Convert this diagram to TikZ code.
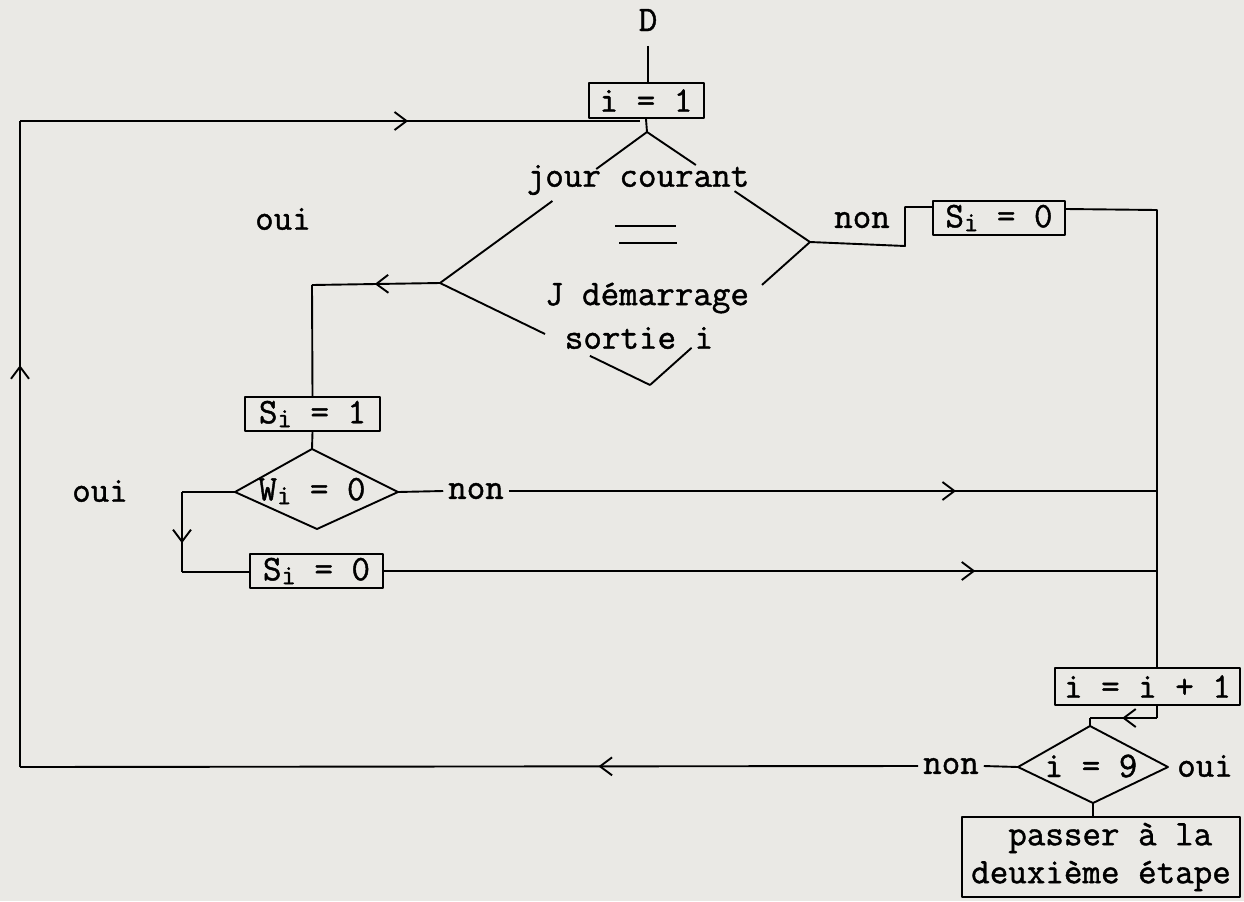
\documentclass[tikz,border=0pt]{standalone}
\usepackage{fontspec}
\setmonofont{Latin Modern Mono}[FakeBold=1.2]
\usetikzlibrary{calc,arrows.meta,decorations.markings}
\definecolor{paper}{RGB}{234,233,229}
\newcommand\lowi{\raisebox{-0.25ex}{\fontsize{14}{14}\selectfont i}}
\begin{document}
\begin{tikzpicture}[x=0.5pt,y=-0.5pt,
  line width=0.95pt, line join=round,
  txt/.style={font=\ttfamily\fontsize{18}{19}\selectfont, inner sep=2pt},
  box/.style={txt, draw, inner sep=0pt, line width=1pt},
  midarr/.style={postaction={decorate,decoration={markings,
      mark=at position #1 with {\arrow{Straight Barb[length=6pt,width=9pt,line width=0.95pt]}}}}}]
\fill[paper] (0,0) rectangle (1244,901);
\useasboundingbox (0,0) rectangle (1244,901);

% boxes
\node[box, minimum width=57.5pt, minimum height=17.5pt] (i1) at (646,100.5) {i = 1};
\node[box, minimum width=66pt, minimum height=17pt] (si0a) at (999,218) {S\lowi{} = 0};
\node[box, minimum width=67.5pt, minimum height=17pt] (si1) at (312.5,414) {S\lowi{} = 1};
\node[box, minimum width=66.5pt, minimum height=17pt] (si0b) at (316.5,571) {S\lowi{} = 0};
\node[box, minimum width=92.5pt, minimum height=18.5pt] (inc) at (1147.5,686.5) {i = i + 1};
\node[box, minimum width=139pt, minimum height=40pt, align=center] (pass) at (1101,857)
  {\ passer à la\\deuxième étape};

% texts
\node[txt] (D) at (648,20) {D};
\node[txt] (jour) at (638,180) {jour courant};
\node[txt] (jdem) at (647,298) {J démarrage};
\node[txt] (sort) at (639,338) {sortie i};
\node[txt] (oui1) at (283,219) {oui};
\node[txt] (non1) at (862,220) {non};
\node[txt] (oui2) at (100,491) {oui};
\node[txt] (non2) at (476,491) {non};
\node[txt] (non3) at (951,766) {non};
\node[txt] (oui3) at (1205,766) {oui};
\node[txt] (wtxt) at (312,491) {W\lowi{} = 0};
\node[txt] (ntxt) at (1091,766) {i = 9};

% big diamond
\coordinate (dT) at (647,132);
\coordinate (dR) at (810,242);
\coordinate (dB) at (650,385);
\coordinate (dL) at (440,283);
\draw (dT) -- ($(dT)!0.245!(dL)$);
\draw ($(dT)!0.457!(dL)$) -- (dL);
\draw (dT) -- ($(dT)!0.30!(dR)$);
\draw ($(dT)!0.537!(dR)$) -- (dR);
\draw (dR) -- ($(dR)!0.30!(dB)$);
\draw ($(dR)!0.74!(dB)$) -- (dB);
\draw (dL) -- ($(dL)!0.50!(dB)$);
\draw ($(dL)!0.714!(dB)$) -- (dB);
% equality sign
\coordinate (e1) at (615,226);
\coordinate (e2) at (676,226);
\coordinate (e3) at (619,243);
\coordinate (e4) at (677,243);
\draw (e1) -- (e2);
\draw (e3) -- (e4);

% W diamond
\coordinate (wT) at (312,449);
\coordinate (wR) at (398,492);
\coordinate (wB) at (317,529);
\coordinate (wL) at (235,492);
\draw (wT) -- (wR) -- (wB) -- (wL) -- cycle;

% i=9 diamond
\coordinate (nT) at (1090,726);
\coordinate (nR) at (1168,767);
\coordinate (nB) at (1093,803);
\coordinate (nL) at (1018,767);
\draw (nT) -- (nR) -- (nB) -- (nL) -- cycle;

% helper coordinates
\coordinate (Lb) at (20,767);
\coordinate (Lt) at (20,121);
\coordinate (Tr) at (640,121);
\coordinate (c1) at (905,246);
\coordinate (R1) at (1157,210);
\coordinate (c3) at (182,492);
\coordinate (c4) at (182,572);
\coordinate (c5) at (312,285);
\coordinate (c2) at (1157,718);

% connectors
\draw[shorten <=5pt] (D.south) -- (D.south |- i1.north);
\draw (i1.south) -- (dT);
\draw[midarr=0.356] (non3.west) -- (Lb);
\draw[midarr=0.622] (Lb) -- (Lt);
\draw[midarr=0.626] (Lt) -- (Tr);
\draw (dR) -- (c1) |- ($(si0a.north west)+(0,7)$);
\draw ($(si0a.north east)+(0,9)$) -- (R1) -- (R1 |- inc.north);
\draw[midarr=0.51] (dL) -- (c5);
\draw (c5) -- (si1.north);
\draw (si1.south) -- (wT);
\draw (wL) -- (c3);
\draw[midarr=0.64] (c3) -- (c4);
\draw (c4) -- (si0b.west |- c4);
\draw (wR) -- (non2.west);
\draw[midarr=0.69] (non2.east) -- (non2.east -| R1);
\draw[midarr=0.765] (si0b.east) -- (si0b.east -| R1);
\draw (inc.south -| R1) -- (c2);
\draw[midarr=0.52] (c2) -- (nT |- c2);
\draw (nT |- c2) -- (nT);
\draw (nL) -- (non3.east);
\draw (nB) -- (nB |- pass.north);
\end{tikzpicture}
\end{document}
